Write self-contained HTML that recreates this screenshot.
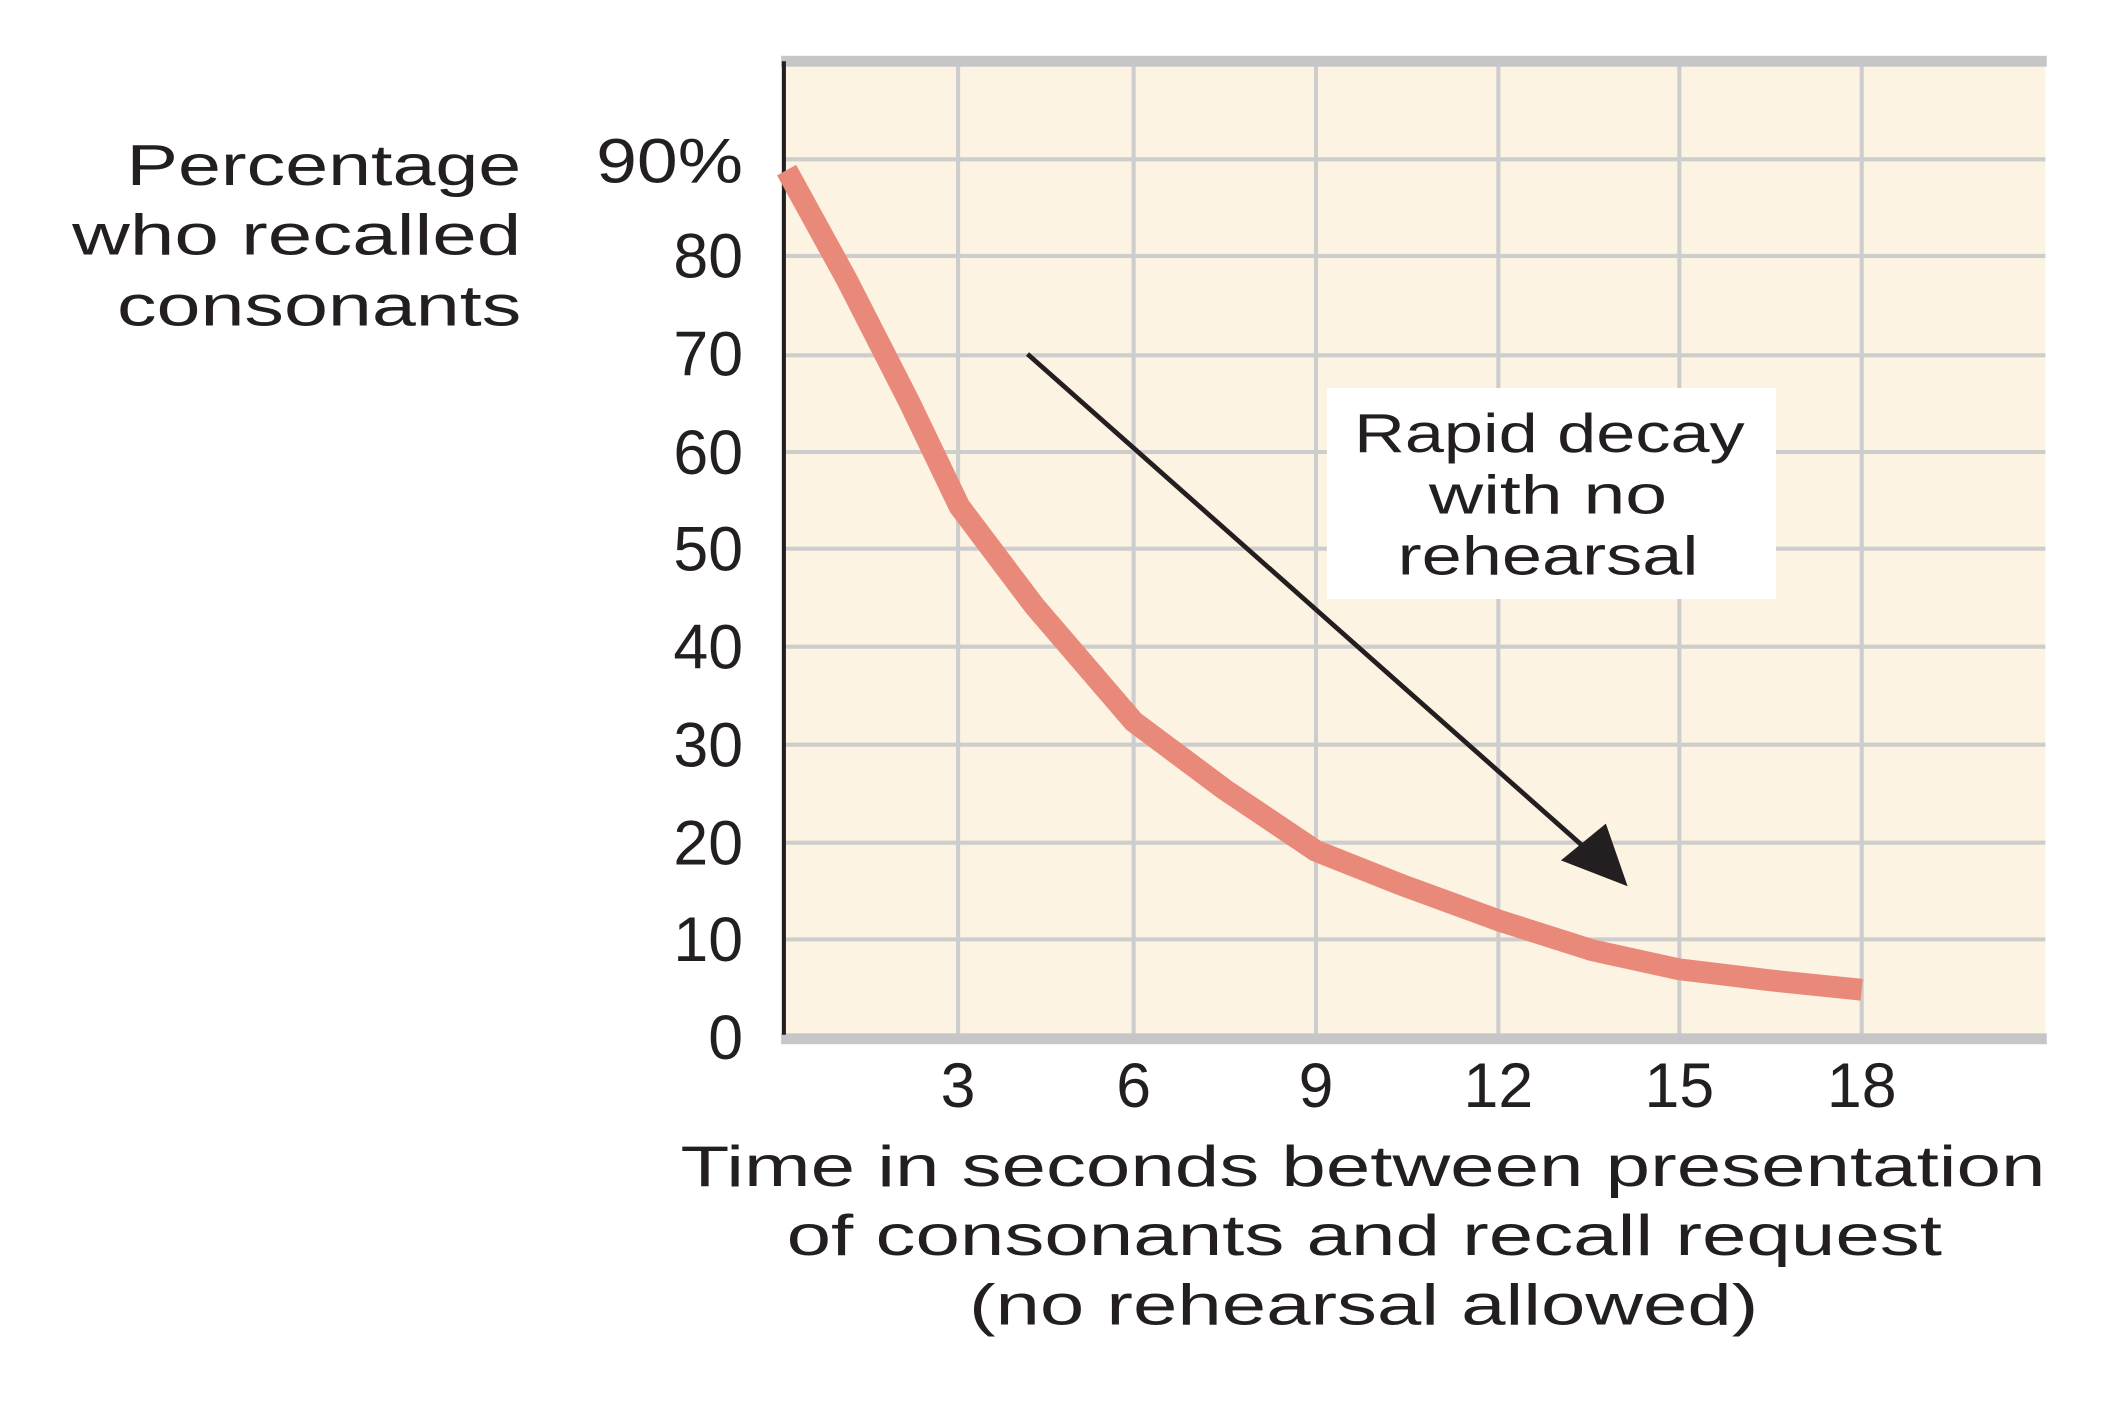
<!DOCTYPE html>
<html><head><meta charset="utf-8"><style>
html,body{margin:0;padding:0;background:#fff;}
svg{display:block;}
text{font-family:"Liberation Sans",sans-serif;fill:#231f20;}
</style></head><body>
<svg width="2103" height="1405" viewBox="0 0 1545.3 1032" preserveAspectRatio="none" xmlns="http://www.w3.org/2000/svg">
<rect x="576" y="45" width="927" height="717" fill="#fdf3e3"/>
<g stroke="#cdcdcd" stroke-width="3">
<line x1="704" y1="45" x2="704" y2="762"/>
<line x1="833" y1="45" x2="833" y2="762"/>
<line x1="967" y1="45" x2="967" y2="762"/>
<line x1="1101" y1="45" x2="1101" y2="762"/>
<line x1="1234" y1="45" x2="1234" y2="762"/>
<line x1="1368" y1="45" x2="1368" y2="762"/>
<line x1="576" y1="117" x2="1503" y2="117"/>
<line x1="576" y1="188" x2="1503" y2="188"/>
<line x1="576" y1="261" x2="1503" y2="261"/>
<line x1="576" y1="332" x2="1503" y2="332"/>
<line x1="576" y1="403" x2="1503" y2="403"/>
<line x1="576" y1="475" x2="1503" y2="475"/>
<line x1="576" y1="547" x2="1503" y2="547"/>
<line x1="576" y1="619" x2="1503" y2="619"/>
<line x1="576" y1="690" x2="1503" y2="690"/>
</g>
<rect x="574" y="41" width="930" height="8" fill="#c6c6c8"/>
<rect x="574" y="759" width="930" height="8" fill="#c6c6c8"/>
<line x1="576" y1="45" x2="576" y2="760" stroke="#231f20" stroke-width="3"/>
<polyline fill="none" stroke="#e8897a" stroke-width="16" stroke-linejoin="round"
 points="578,125 622,205 668,295 705,372 760,445 833,530 900,580 967,625 1030,650 1101,676 1170,698 1234,712 1300,720 1368,727"/>
<line x1="755" y1="260" x2="1175" y2="632" stroke="#231f20" stroke-width="3.5"/>
<polygon points="1196,651 1147,632 1180,605" fill="#231f20"/>
<rect x="975" y="285" width="330" height="155" fill="#fff"/>
<g font-size="40" text-anchor="start">
<text x="995" y="332" textLength="287" lengthAdjust="spacingAndGlyphs">Rapid decay</text>
<text x="1050" y="377" textLength="175" lengthAdjust="spacingAndGlyphs">with no</text>
<text x="1027" y="422" textLength="221" lengthAdjust="spacingAndGlyphs">rehearsal</text>
</g>
<g font-size="42">
<text x="93" y="136" textLength="290" lengthAdjust="spacingAndGlyphs">Percentage</text>
<text x="53" y="187" textLength="330" lengthAdjust="spacingAndGlyphs">who recalled</text>
<text x="86" y="239" textLength="297" lengthAdjust="spacingAndGlyphs">consonants</text>
</g>
<g font-size="46" text-anchor="end">
<text x="546" y="134" textLength="108" lengthAdjust="spacingAndGlyphs">90%</text>
<text x="546" y="204">80</text>
<text x="546" y="276">70</text>
<text x="546" y="348">60</text>
<text x="546" y="419">50</text>
<text x="546" y="491">40</text>
<text x="546" y="563">30</text>
<text x="546" y="635">20</text>
<text x="546" y="706">10</text>
<text x="546" y="778">0</text>
</g>
<g font-size="46" text-anchor="middle">
<text x="704" y="813">3</text>
<text x="833" y="813">6</text>
<text x="967" y="813">9</text>
<text x="1101" y="813">12</text>
<text x="1234" y="813">15</text>
<text x="1368" y="813">18</text>
</g>
<g font-size="42">
<text x="500" y="871" textLength="1003" lengthAdjust="spacingAndGlyphs">Time in seconds between presentation</text>
<text x="578" y="922" textLength="849" lengthAdjust="spacingAndGlyphs">of consonants and recall request</text>
<text x="712" y="973" textLength="580" lengthAdjust="spacingAndGlyphs">(no rehearsal allowed)</text>
</g>
</svg>
</body></html>
